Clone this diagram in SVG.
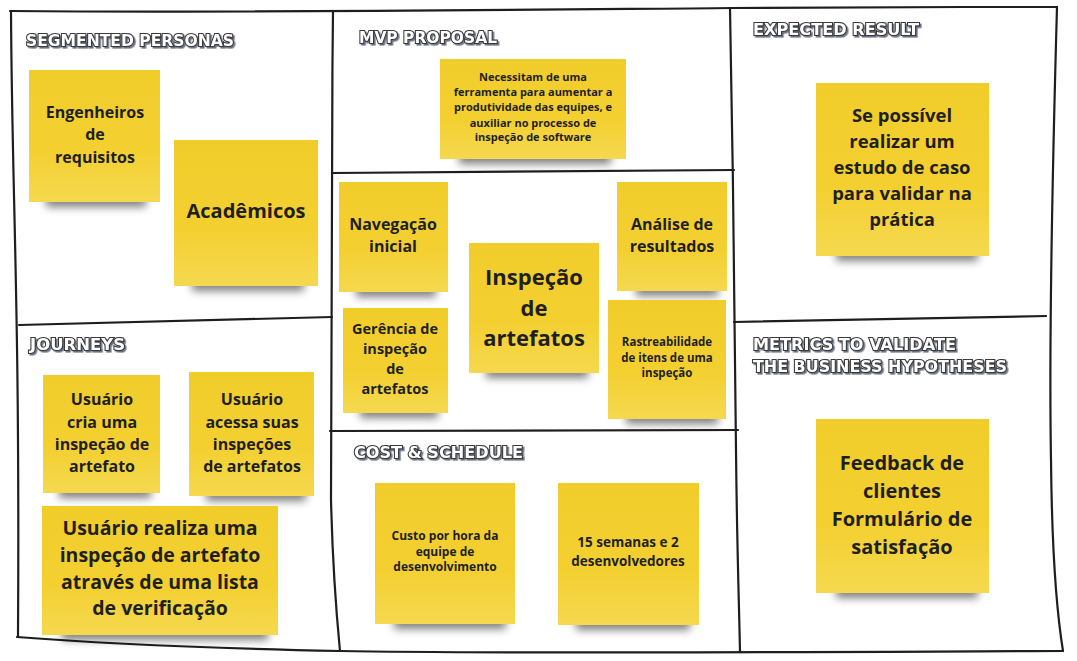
<svg xmlns="http://www.w3.org/2000/svg" width="1077" height="661" viewBox="0 0 1077 661">
<defs>
  <linearGradient id="paper" x1="0" y1="0" x2="0" y2="1">
    <stop offset="0" stop-color="#f1cd2c"/>
    <stop offset="0.6" stop-color="#f3d030"/>
    <stop offset="1" stop-color="#f5d84f"/>
  </linearGradient>
  <filter id="blur" x="-20%" y="-80%" width="140%" height="260%">
    <feGaussianBlur stdDeviation="4"/>
  </filter>
  <filter id="hshadow" x="-5%" y="-30%" width="110%" height="160%">
    <feDropShadow dx="1.6" dy="1.6" stdDeviation="0.4" flood-color="#5a6378" flood-opacity="0.9"/>
  </filter>
</defs>
<style>
  .frame { fill: none; stroke: #1e1e1e; stroke-width: 2.2; stroke-linecap: round; }
  .hdr { font-family: "DejaVu Sans", "Liberation Sans", sans-serif; font-weight: bold; font-size: 16px; fill: #ffffff; stroke: #3a3a3a; stroke-width: 2.2; paint-order: stroke; filter: url(#hshadow); }
  .note { fill: url(#paper); }
  .shadow { fill: #000; opacity: 0.5; filter: url(#blur); }
  .t { font-family: "Open Sans", "Noto Sans", "DejaVu Sans", sans-serif; font-weight: bold; fill: #1f1f1f; text-anchor: middle; }
</style>
<rect width="1077" height="661" fill="#ffffff"/>

<g id="frame">
  <path class="frame" d="M10,11 C 250,13 500,10 733,8 C 850,7 950,7 1057,7"/>
  <path class="frame" d="M1057,7 C 1053,150 1049,350 1051,460 C 1052,560 1058,620 1063,651"/>
  <path class="frame" d="M1063,651 C 800,652 500,654 340,651 C 200,648 80,642 17,637"/>
  <path class="frame" d="M11,11 C 12,200 20,300 18,637"/>
  <path class="frame" d="M333,11 C 331,200 330,400 331,500 C 333,580 337,620 340,651"/>
  <path class="frame" d="M19,325 L332,317"/>
  <path class="frame" d="M333,173 L734,170"/>
  <path class="frame" d="M330,431 L738,430"/>
  <path class="frame" d="M730,8 C 733,150 735,350 736,450 C 737,550 739,600 740,652"/>
  <path class="frame" d="M734,322 L1046,316"/>
</g>

<g id="headers">
  <text class="hdr" x="26" y="46" textLength="208" lengthAdjust="spacingAndGlyphs">SEGMENTED PERSONAS</text>
  <text class="hdr" x="359" y="43" textLength="138" lengthAdjust="spacingAndGlyphs">MVP PROPOSAL</text>
  <text class="hdr" x="753" y="35" textLength="166" lengthAdjust="spacingAndGlyphs">EXPECTED RESULT</text>
  <text class="hdr" x="30" y="350" textLength="95" lengthAdjust="spacingAndGlyphs">JOURNEYS</text>
  <text class="hdr" x="753" y="350" textLength="203" lengthAdjust="spacingAndGlyphs">METRICS TO VALIDATE</text>
  <text class="hdr" x="753" y="372" textLength="254" lengthAdjust="spacingAndGlyphs">THE BUSINESS HYPOTHESES</text>
  <text class="hdr" x="354" y="458" textLength="169" lengthAdjust="spacingAndGlyphs">COST &amp; SCHEDULE</text>
</g>

<g id="n-engenheiros">
  <rect class="shadow" x="46" y="194" width="100" height="13"/>
  <rect class="note" x="29" y="70" width="131" height="132"/>
  <text class="t" font-size="16" x="95" y="118">Engenheiros</text>
  <text class="t" font-size="16" x="95" y="140">de</text>
  <text class="t" font-size="16" x="95" y="163">requisitos</text>
</g>

<g id="n-academicos">
  <rect class="shadow" x="192" y="278" width="112" height="13"/>
  <rect class="note" x="174" y="140" width="144" height="146"/>
  <text class="t" font-size="20" x="246" y="218">Acadêmicos</text>
</g>

<g id="n-mvp">
  <rect class="shadow" x="459" y="151" width="152" height="13"/>
  <rect class="note" x="440" y="59" width="186" height="100"/>
  <text class="t" font-size="11" x="533" y="81">Necessitam de uma</text>
  <text class="t" font-size="11" x="533" y="96">ferramenta para aumentar a</text>
  <text class="t" font-size="11" x="533" y="111">produtividade das equipes, e</text>
  <text class="t" font-size="11" x="533" y="127">auxiliar no processo de</text>
  <text class="t" font-size="11" x="533" y="141">inspeção de software</text>
</g>

<g id="n-navegacao">
  <rect class="shadow" x="356" y="284" width="80" height="13"/>
  <rect class="note" x="339" y="182" width="109" height="110"/>
  <text class="t" font-size="16" x="393" y="230">Navegação</text>
  <text class="t" font-size="16" x="393" y="252">inicial</text>
</g>

<g id="n-gerencia">
  <rect class="shadow" x="360" y="405" width="78" height="13"/>
  <rect class="note" x="343" y="308" width="105" height="105"/>
  <text class="t" font-size="14.5" x="395" y="334">Gerência de</text>
  <text class="t" font-size="14.5" x="395" y="354">inspeção</text>
  <text class="t" font-size="14.5" x="395" y="374">de</text>
  <text class="t" font-size="14.5" x="395" y="394">artefatos</text>
</g>

<g id="n-inspecao">
  <rect class="shadow" x="486" y="365" width="102" height="13"/>
  <rect class="note" x="469" y="243" width="130" height="130"/>
  <text class="t" font-size="22" x="534" y="285">Inspeção</text>
  <text class="t" font-size="22" x="534" y="316">de</text>
  <text class="t" font-size="22" x="534" y="346">artefatos</text>
</g>

<g id="n-analise">
  <rect class="shadow" x="636" y="283" width="82" height="13"/>
  <rect class="note" x="617" y="182" width="110" height="109"/>
  <text class="t" font-size="16" x="672" y="230">Análise de</text>
  <text class="t" font-size="16" x="672" y="252">resultados</text>
</g>

<g id="n-rastreabilidade">
  <rect class="shadow" x="626" y="411" width="92" height="13"/>
  <rect class="note" x="608" y="300" width="118" height="119"/>
  <text class="t" font-size="11.5" x="667" y="346">Rastreabilidade</text>
  <text class="t" font-size="11.5" x="667" y="362">de itens de uma</text>
  <text class="t" font-size="11.5" x="667" y="377">inspeção</text>
</g>

<g id="n-usuario-cria">
  <rect class="shadow" x="59" y="485" width="92" height="13"/>
  <rect class="note" x="43" y="375" width="117" height="118"/>
  <text class="t" font-size="16" x="102" y="405">Usuário</text>
  <text class="t" font-size="16" x="102" y="428">cria uma</text>
  <text class="t" font-size="16" x="102" y="450">inspeção de</text>
  <text class="t" font-size="16" x="102" y="472">artefato</text>
</g>

<g id="n-usuario-acessa">
  <rect class="shadow" x="206" y="488" width="100" height="13"/>
  <rect class="note" x="189" y="372" width="125" height="124"/>
  <text class="t" font-size="16" x="252" y="405">Usuário</text>
  <text class="t" font-size="16" x="252" y="428">acessa suas</text>
  <text class="t" font-size="16" x="252" y="450">inspeções</text>
  <text class="t" font-size="16" x="252" y="472">de artefatos</text>
</g>

<g id="n-usuario-realiza">
  <rect class="shadow" x="62" y="627" width="206" height="13"/>
  <rect class="note" x="42" y="506" width="236" height="129"/>
  <text class="t" font-size="19.5" x="160" y="535">Usuário realiza uma</text>
  <text class="t" font-size="19.5" x="160" y="562">inspeção de artefato</text>
  <text class="t" font-size="19.5" x="160" y="589">através de uma lista</text>
  <text class="t" font-size="19.5" x="160" y="615">de verificação</text>
</g>

<g id="n-custo">
  <rect class="shadow" x="394" y="616" width="112" height="13"/>
  <rect class="note" x="375" y="483" width="140" height="141"/>
  <text class="t" font-size="12" x="445" y="540">Custo por hora da</text>
  <text class="t" font-size="12" x="445" y="556">equipe de</text>
  <text class="t" font-size="12" x="445" y="571">desenvolvimento</text>
</g>

<g id="n-semanas">
  <rect class="shadow" x="576" y="617" width="114" height="13"/>
  <rect class="note" x="558" y="483" width="141" height="142"/>
  <text class="t" font-size="13.5" x="628" y="547">15 semanas e 2</text>
  <text class="t" font-size="13.5" x="628" y="566">desenvolvedores</text>
</g>

<g id="n-estudo">
  <rect class="shadow" x="836" y="248" width="142" height="13"/>
  <rect class="note" x="816" y="83" width="173" height="173"/>
  <text class="t" font-size="18.5" x="902" y="122">Se possível</text>
  <text class="t" font-size="18.5" x="902" y="148">realizar um</text>
  <text class="t" font-size="18.5" x="902" y="174">estudo de caso</text>
  <text class="t" font-size="18.5" x="902" y="200">para validar na</text>
  <text class="t" font-size="18.5" x="902" y="226">prática</text>
</g>

<g id="n-feedback">
  <rect class="shadow" x="836" y="585" width="142" height="13"/>
  <rect class="note" x="816" y="419" width="173" height="174"/>
  <text class="t" font-size="20" x="902" y="470">Feedback de</text>
  <text class="t" font-size="20" x="902" y="498">clientes</text>
  <text class="t" font-size="20" x="902" y="526">Formulário de</text>
  <text class="t" font-size="20" x="902" y="554">satisfação</text>
</g>

<g id="connectors"></g>
</svg>
